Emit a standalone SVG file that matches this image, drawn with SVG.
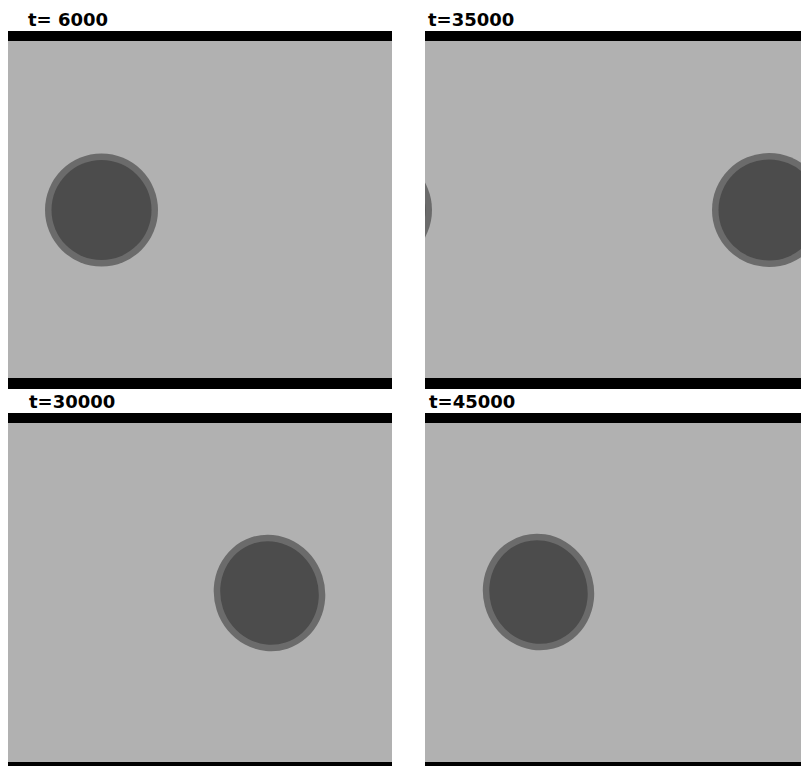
<svg xmlns="http://www.w3.org/2000/svg" width="801" height="766" viewBox="0 0 801 766">
<defs>
<style>
.bg{fill:#b1b1b1}
.bar{fill:#000}
.ring{fill:#6b6b6b}
.core{fill:#4c4c4c}
.lbl{font-family:"DejaVu Sans",Verdana,sans-serif;font-weight:bold;font-size:18px;fill:#000}
</style>
<clipPath id="c2"><rect x="425" y="41" width="376" height="337"/></clipPath>
</defs>
<rect width="801" height="766" fill="#fff"/>
<g id="panel1">
<rect class="bar" x="8" y="31" width="384" height="10"/>
<rect class="bg" x="8" y="41" width="384" height="337"/>
<rect class="bar" x="8" y="378" width="384" height="11"/>
<circle class="ring" cx="101.5" cy="210" r="56.5"/>
<circle class="core" cx="101.5" cy="210" r="50"/>
<text class="lbl" x="28" y="25.5">t= 6000</text>
</g>
<g id="panel2">
<rect class="bar" x="425" y="31" width="376" height="10"/>
<rect class="bg" x="425" y="41" width="376" height="337"/>
<rect class="bar" x="425" y="378" width="376" height="11"/>
<g clip-path="url(#c2)">
<circle class="ring" cx="769" cy="210" r="57"/>
<circle class="core" cx="769" cy="210" r="50.5"/>
<circle class="ring" cx="375" cy="210" r="57"/>
<circle class="core" cx="375" cy="210" r="50.5"/>
</g>
<text class="lbl" x="428" y="25.5">t=35000</text>
</g>
<g id="panel3">
<rect class="bar" x="8" y="413" width="384" height="10"/>
<rect class="bg" x="8" y="423" width="384" height="339"/>
<rect class="bar" x="8" y="762" width="384" height="4"/>
<ellipse class="ring" cx="269.5" cy="593" rx="55.5" ry="58.5" transform="rotate(-18 269.5 593)"/>
<ellipse class="core" cx="269.5" cy="593" rx="49" ry="52" transform="rotate(-18 269.5 593)"/>
<text class="lbl" x="29" y="407.5">t=30000</text>
</g>
<g id="panel4">
<rect class="bar" x="425" y="413" width="376" height="10"/>
<rect class="bg" x="425" y="423" width="376" height="339"/>
<rect class="bar" x="425" y="762" width="376" height="4"/>
<ellipse class="ring" cx="538.5" cy="592" rx="55.5" ry="58.5" transform="rotate(-15 538.5 592)"/>
<ellipse class="core" cx="538.5" cy="592" rx="49" ry="52" transform="rotate(-15 538.5 592)"/>
<text class="lbl" x="429" y="407.5">t=45000</text>
</g>
<g id="connectors"/>
</svg>
